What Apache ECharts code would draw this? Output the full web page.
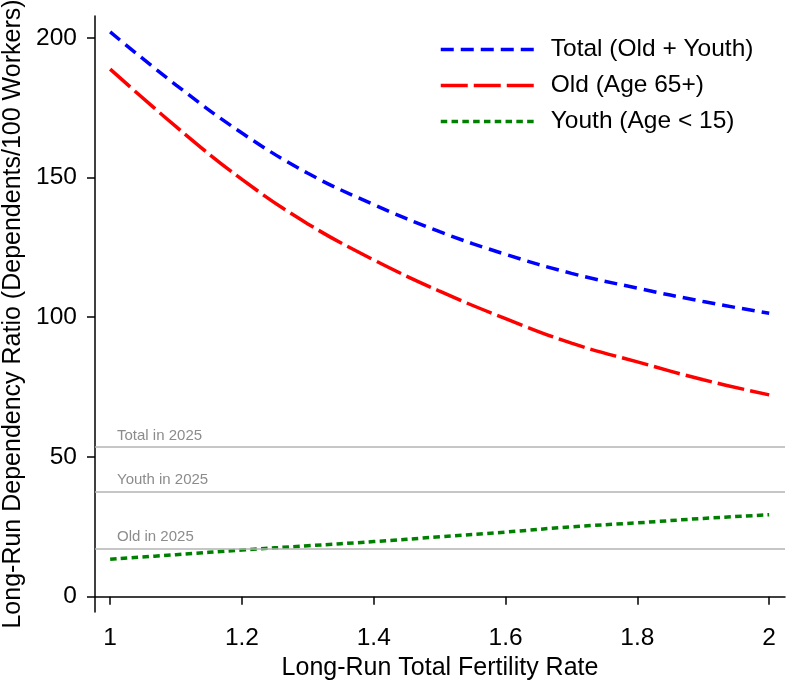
<!DOCTYPE html>
<html>
<head>
<meta charset="utf-8">
<script src="https://cdn.jsdelivr.net/npm/echarts@6/dist/echarts.min.js"></script>
<style>
html,body{margin:0;padding:0;background:#fff;}
#chart{width:787px;height:682px;}
</style>
</head>
<body>
<div id="chart"></div>
<script>
const fertility = [1.0, 1.1, 1.2, 1.3, 1.4, 1.5, 1.6, 1.7, 1.8, 1.9, 2.0];
const totalRatio = [202.1, 183.1, 165.9, 151.5, 140.3, 130.6, 122.5, 115.7, 110.4, 105.6, 101.4];
const oldRatio = [188.8, 168.2, 149.3, 133.4, 120.5, 109.3, 99.5, 90.7, 84.0, 77.6, 72.2];
const youthRatio = [13.4, 15.0, 16.7, 18.2, 19.7, 21.4, 23.1, 25.0, 26.4, 28.0, 29.3];
const seriesNames = ['Total (Old + Youth)', 'Old (Age 65+)', 'Youth (Age < 15)'];
const refValues = [53.5, 37.6, 17.1];
const refLabels = ['Total in 2025', 'Youth in 2025', 'Old in 2025'];
const xTicks = [1, 1.2, 1.4, 1.6, 1.8, 2];
const yTicks = [0, 50, 100, 150, 200];

const FONT = "'Liberation Sans', Arial, Helvetica, sans-serif";
const pairs = arr => fertility.map((x, i) => [x, arr[i]]);

const chart = echarts.init(document.getElementById('chart'));
chart.setOption({
  backgroundColor: '#fff',
  animation: false,
  textStyle: { fontFamily: FONT },
  grid: { left: 95, right: 2, top: 16, bottom: 70, containLabel: false, outerBoundsMode: 'none' },
  legend: {
    data: seriesNames,
    orient: 'vertical',
    left: 434,
    top: 32,
    itemWidth: 93,
    itemHeight: 24,
    itemGap: 11,
    itemStyle: { opacity: 0 },
    lineStyle: { width: 3.5 },
    textStyle: { fontFamily: FONT, fontSize: 24.5, color: '#000', padding: [0, 0, 0, 12] }
  },
  xAxis: {
    type: 'value',
    min: 0.977,
    max: 2.024,
    name: 'Long-Run Total Fertility Rate',
    nameLocation: 'middle',
    nameGap: 41,
    nameTextStyle: { fontFamily: FONT, fontSize: 25, color: '#000' },
    axisLine: { show: true, lineStyle: { color: '#000', width: 1.5 } },
    axisTick: { show: true, length: 8, lineStyle: { color: '#000', width: 1.5 }, customValues: xTicks },
    axisLabel: { fontFamily: FONT, fontSize: 24.5, color: '#000', margin: 14, customValues: xTicks, formatter: v => String(v) },
    splitLine: { show: false }
  },
  yAxis: {
    type: 'value',
    min: -5.5,
    max: 207.8,
    name: 'Long-Run Dependency Ratio (Dependents/100 Workers)',
    nameLocation: 'middle',
    nameGap: 69,
    nameTextStyle: { fontFamily: FONT, fontSize: 25, color: '#000' },
    axisLine: { show: true, lineStyle: { color: '#000', width: 1.5 } },
    axisTick: { show: true, length: 8, lineStyle: { color: '#000', width: 1.5 }, customValues: yTicks },
    axisLabel: { fontFamily: FONT, fontSize: 24.5, color: '#000', margin: 18, customValues: yTicks },
    splitLine: { show: false }
  },
  series: [
    {
      name: 'ref2025',
      type: 'line',
      data: [],
      silent: true,
      z: 1,
      markLine: {
        silent: true,
        symbol: 'none',
        animation: false,
        lineStyle: { color: '#b3b3b3', width: 1.5, type: 'solid' },
        label: { position: 'insideStartTop', distance: [22, 4], fontFamily: FONT, fontSize: 15, color: '#8c8c8c' },
        emphasis: { disabled: true },
        data: refValues.map((v, i) => ({ yAxis: v, label: { formatter: refLabels[i] } }))
      }
    },
    {
      name: seriesNames[0],
      type: 'line',
      data: pairs(totalRatio),
      smooth: 0.4,
      symbol: 'none',
      z: 3,
      itemStyle: { color: '#0000ff' },
      lineStyle: { color: '#0000ff', width: 3.5, type: [13, 7] }
    },
    {
      name: seriesNames[1],
      type: 'line',
      data: pairs(oldRatio),
      smooth: 0.4,
      symbol: 'none',
      z: 3,
      itemStyle: { color: '#ff0000' },
      lineStyle: { color: '#ff0000', width: 3.5, type: [27, 6] }
    },
    {
      name: seriesNames[2],
      type: 'line',
      data: pairs(youthRatio),
      smooth: 0.4,
      symbol: 'none',
      z: 3,
      itemStyle: { color: '#008000' },
      lineStyle: { color: '#008000', width: 3.5, type: [6.5, 4.3] }
    }
  ]
});
</script>
</body>
</html>
